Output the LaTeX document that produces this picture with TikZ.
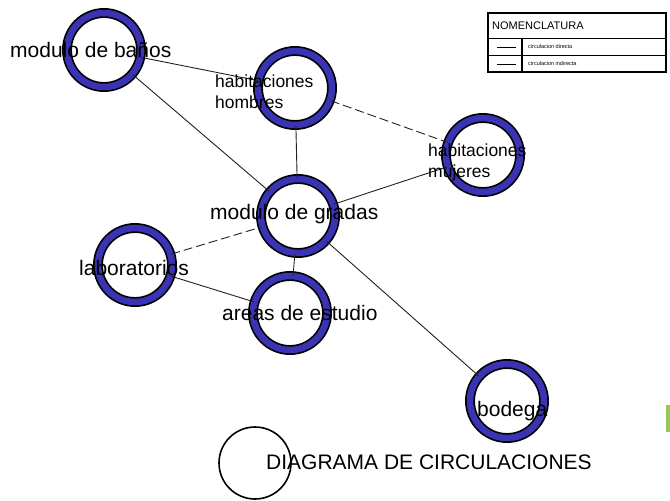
\documentclass[tikz,border=0pt]{standalone}
\usepackage{fontspec}
\setmainfont{Liberation Sans}
\usetikzlibrary{positioning}

\begin{document}
\begin{tikzpicture}[
    x=1pt, y=-1pt,
    every node/.style={font=\fontsize{21}{24}\selectfont},
    zona/.style={circle, draw=black, line width=1.7pt, double=ringblue,
                 double distance=6.5pt, minimum size=74pt, inner sep=0pt},
    rotulo/.style={anchor=base west, inner sep=0pt, text=black},
    rotulochico/.style={rotulo, align=left,
                        font=\fontsize{17.5}{21}\selectfont},
    directa/.style={draw=linkgray, line width=0.9pt},
    indirecta/.style={directa, dash pattern=on 9pt off 4pt},
]

\definecolor{ringblue}{HTML}{3A34B4}
\definecolor{linkgray}{HTML}{222222}
\definecolor{bargreen}{HTML}{98C65A}

\useasboundingbox (0,0) rectangle (670,501);
\fill[white] (0,0) rectangle (670,501);

% ------------------------------------------------------------ the zones
\node[zona] (banos)   at (104, 50)  {};
\node[zona] (hombres) at (295, 88)  {};
\node[zona] (mujeres) at (483, 155) {};
\node[zona] (gradas)  at (298, 216) {};
\node[zona] (labs)    at (135, 265) {};
\node[zona] (estudio) at (290, 313) {};
\node[zona] (bodega)  at (507, 401) {};

% ------------------------------------------------------------ circulation
\foreach \a/\b/\tipo in {banos/hombres/directa, banos/gradas/directa,
                         hombres/gradas/directa, hombres/mujeres/indirecta,
                         gradas/mujeres/directa, labs/gradas/indirecta,
                         gradas/estudio/directa, labs/estudio/directa,
                         gradas/bodega/directa} {
    \draw[\tipo] (\a) -- (\b);
}

% ------------------------------------------------------------ the names
% the names are set loosely over their rings, as on the original sheet;
% two-line names are placed by the baseline of their last line
\node[rotulo] (tbanos)   at (10, 57)  {modulo de baños};
\node[rotulochico] (thombres) at (215, 108) {habitaciones\\hombres};
\node[rotulochico] (tmujeres) at (428, 177) {habitaciones\\mujeres};
\node[rotulo] (tgradas)  at (210, 219) {modulo de gradas};
\node[rotulo] (tlabs)    at (79, 275)  {laboratorios};
\node[rotulo] (testudio) at (222, 320) {areas de estudio};
\node[rotulo] (tbodega)  at (477, 416) {bodega};

% ------------------------------------------------------------ title
\node[circle, draw=black, line width=1.6pt, minimum size=72pt,
      inner sep=0pt] (marca) at (255, 463) {};
\node[rotulo] (titulo) at (266, 469) {DIAGRAMA DE CIRCULACIONES};

% ------------------------------------------------------------ legend
\draw[line width=2.2pt] (488, 13) rectangle (666, 72);
\draw[line width=1pt] (488, 38) -- (666, 38);
\draw[line width=1pt] (488, 55) -- (666, 55);
\draw[line width=1.4pt] (522, 38) -- (522, 72);
\node[anchor=west, inner sep=0pt, font=\fontsize{11}{12}\selectfont]
    (nomen) at (492, 26) {NOMENCLATURA};
\foreach \y/\txt in {47/circulacion directa, 64/circulacion indirecta} {
    \draw[line width=0.8pt] (497, \y) -- (516, \y);
    \node[anchor=west, inner sep=0pt, font=\fontsize{5.5}{6}\selectfont]
        at (528, \y) {\txt};
}

% the small green mark at the sheet's right edge
\fill[bargreen] (666, 405) rectangle (670, 432);

\end{tikzpicture}
\end{document}
